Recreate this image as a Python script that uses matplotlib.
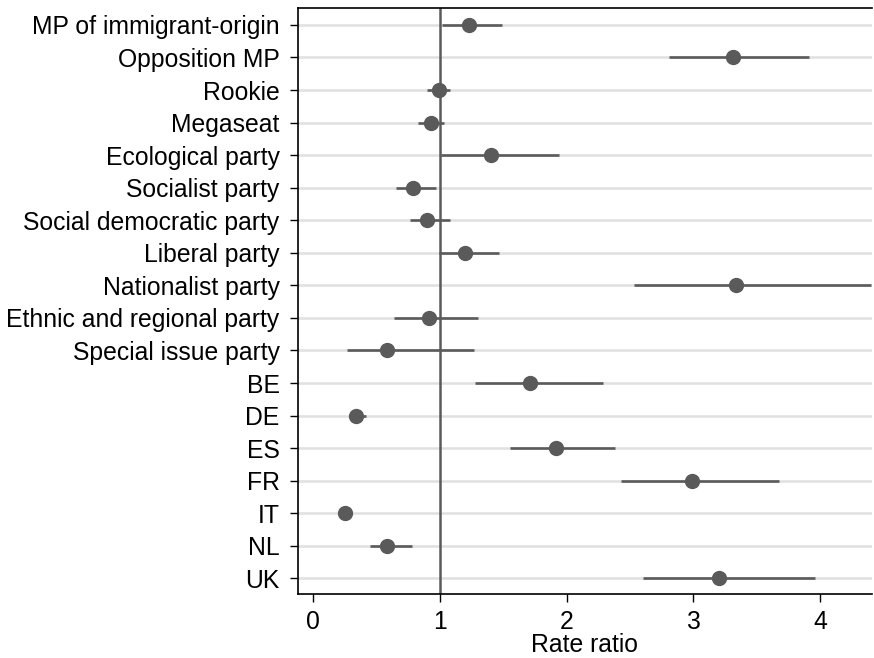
import matplotlib.pyplot as plt
import numpy as np

plt.rcParams['font.family'] = ['Liberation Sans', 'DejaVu Sans']

labels = ["MP of immigrant-origin", "Opposition MP", "Rookie", "Megaseat",
          "Ecological party", "Socialist party", "Social democratic party",
          "Liberal party", "Nationalist party", "Ethnic and regional party",
          "Special issue party", "BE", "DE", "ES", "FR", "IT", "NL", "UK"]
est = [1.23, 3.31, 0.99, 0.93, 1.40, 0.79, 0.90, 1.20, 3.34, 0.915, 0.58,
       1.71, 0.34, 1.92, 2.99, 0.25, 0.58, 3.20]
lo = [1.02, 2.81, 0.90, 0.83, 1.01, 0.65, 0.76, 0.99, 2.53, 0.64, 0.27,
      1.28, 0.28, 1.55, 2.43, 0.22, 0.45, 2.60]
hi = [1.49, 3.91, 1.08, 1.03, 1.94, 0.97, 1.08, 1.47, 4.40, 1.30, 1.27,
      2.29, 0.42, 2.38, 3.68, 0.30, 0.78, 3.96]

gray = "#5a5a5a"
y = np.arange(len(labels))

fig = plt.figure(figsize=(8.74, 6.58), dpi=100)
ax = fig.add_axes([0.3406, 0.0977, 0.657, 0.8897])

for yy in y:
    ax.axhline(yy, color="#e0e0e0", lw=1.8, zorder=0)
ax.axvline(1, color=gray, lw=1.8, zorder=1)
ax.hlines(y, lo, hi, color=gray, lw=1.9, zorder=2)
ax.plot(est, y, "o", color=gray, ms=10, zorder=3)

ax.set_xlim(-0.123, 4.41)
ax.set_ylim(17.47, -0.51)
ax.set_yticks(y)
ax.set_yticklabels(labels)
ax.set_xticks([0, 1, 2, 3, 4])
ax.set_xlabel("Rate ratio", fontsize=17.8, labelpad=-1)
ax.tick_params(labelsize=17.8, length=6, width=1, color="black")
ax.tick_params(axis="y", pad=7)
ax.tick_params(axis="x", pad=6)
ax.spines["right"].set_visible(False)
for s in ["left", "top", "bottom"]:
    ax.spines[s].set_linewidth(1.2)

plt.savefig("out.png", dpi=100)
